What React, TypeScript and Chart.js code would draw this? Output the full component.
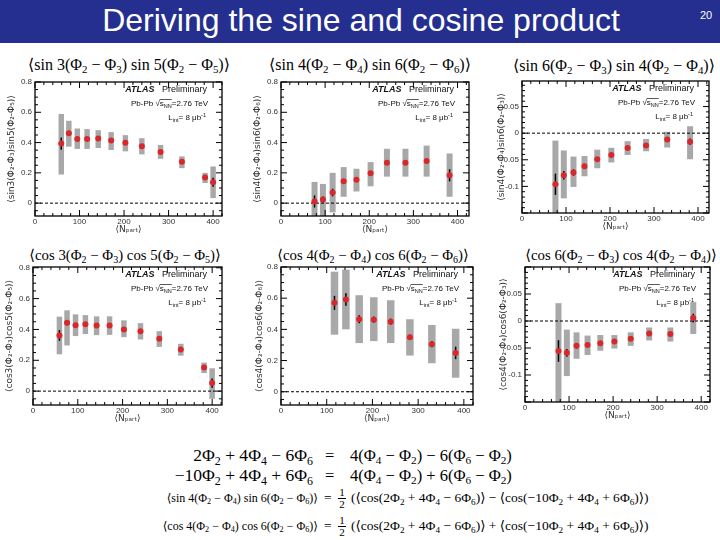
import React, { useEffect, useRef } from 'react';
import { Chart, registerables } from 'chart.js';
Chart.register(...registerables);

// ---------------- data ----------------
const nPart12 = [59, 76, 95, 117, 142, 171, 203, 240, 282, 330, 382, 400];
const nPart10 = [76, 95, 117, 142, 171, 203, 240, 282, 330, 382];
const nPart8 = [117, 142, 171, 203, 240, 282, 330, 382];

const xTickValues = [0, 100, 200, 300, 400];
const yTicksWide = [0, 0.2, 0.4, 0.6, 0.8];
const yTicksNarrow = [-0.1, -0.05, 0, 0.05];

// <sin3(Φ2-Φ3) sin5(Φ2-Φ5)>
const sin35Val = [0.393, 0.462, 0.424, 0.424, 0.427, 0.413, 0.398, 0.376, 0.338, 0.273, 0.169, 0.138];
const sin35Stat = [0.04, 0.015, 0.012, 0.01, 0.01, 0.01, 0.008, 0.008, 0.008, 0.008, 0.012, 0.03];
const sin35Lo = [0.189, 0.373, 0.358, 0.358, 0.364, 0.351, 0.342, 0.322, 0.293, 0.231, 0.133, 0.033];
const sin35Hi = [0.589, 0.544, 0.493, 0.489, 0.482, 0.469, 0.449, 0.429, 0.384, 0.309, 0.2, 0.242];

// <sin4(Φ2-Φ4) sin6(Φ2-Φ6)>
const sin46Val = [0.011, 0.024, 0.07, 0.144, 0.155, 0.197, 0.267, 0.267, 0.278, 0.184];
const sin46Stat = [0.04, 0.02, 0.025, 0.015, 0.012, 0.012, 0.012, 0.012, 0.015, 0.04];
const sin46Lo = [-0.17, -0.09, -0.061, 0.042, 0.077, 0.111, 0.175, 0.175, 0.175, 0.042];
const sin46Hi = [0.14, 0.127, 0.2, 0.238, 0.227, 0.271, 0.359, 0.359, 0.38, 0.328];

// <sin6(Φ2-Φ3) sin4(Φ2-Φ4)>
const sin64Val = [-0.096, -0.079, -0.074, -0.062, -0.049, -0.041, -0.028, -0.023, -0.012, -0.016];
const sin64Stat = [0.02, 0.008, 0.006, 0.004, 0.004, 0.003, 0.003, 0.003, 0.003, 0.006];
const sin64Lo = [-0.16, -0.1225, -0.101, -0.081, -0.066, -0.055, -0.041, -0.034, -0.027, -0.049];
const sin64Hi = [-0.014, -0.0325, -0.044, -0.043, -0.031, -0.0275, -0.015, -0.011, 0.0025, 0.013];

// <cos3(Φ2-Φ3) cos5(Φ2-Φ5)>
const cos35Val = [0.361, 0.443, 0.428, 0.433, 0.426, 0.426, 0.4, 0.389, 0.339, 0.27, 0.154, 0.052];
const cos35Stat = [0.035, 0.015, 0.012, 0.01, 0.01, 0.01, 0.008, 0.008, 0.008, 0.008, 0.012, 0.03];
const cos35Lo = [0.239, 0.296, 0.357, 0.37, 0.363, 0.365, 0.35, 0.335, 0.287, 0.23, 0.117, -0.05];
const cos35Hi = [0.483, 0.524, 0.498, 0.493, 0.485, 0.485, 0.459, 0.441, 0.389, 0.307, 0.185, 0.148];

// <cos4(Φ2-Φ4) cos6(Φ2-Φ6)>
const cos46Val = [0.57, 0.591, 0.465, 0.462, 0.449, 0.35, 0.305, 0.249];
const cos46Stat = [0.045, 0.04, 0.025, 0.02, 0.02, 0.015, 0.02, 0.04];
const cos46Lo = [0.366, 0.4, 0.312, 0.325, 0.312, 0.232, 0.183, 0.09];
const cos46Hi = [0.77, 0.783, 0.619, 0.606, 0.587, 0.465, 0.428, 0.404];

// <cos6(Φ2-Φ3) cos4(Φ2-Φ4)>
const cos64Val = [-0.0555, -0.059, -0.046, -0.0445, -0.041, -0.038, -0.033, -0.023, -0.024, 0.0055];
const cos64Stat = [0.02, 0.007, 0.005, 0.004, 0.003, 0.003, 0.003, 0.003, 0.003, 0.008];
const cos64Lo = [-0.16, -0.102, -0.07, -0.063, -0.055, -0.051, -0.046, -0.036, -0.038, -0.024];
const cos64Hi = [0.033, -0.016, -0.021, -0.027, -0.026, -0.026, -0.021, -0.012, -0.012, 0.035];

// ---------------- style ----------------
const RED = '#d9272b';
const GRAY = '#a8a8a8';
const SANS = '"Liberation Sans", Arial, sans-serif';
const SERIF = '"Liberation Serif", "DejaVu Serif", "Times New Roman", serif';

type Spec = {
  x: number[]; val: number[]; stat: number[]; lo: number[]; hi: number[];
  yMin: number; yMax: number; xMax: number; yTicks: number[]; yMinor: number;
  yLabel: string; box: number;
  plot: { l: number; t: number; r: number; b: number }; tc: number;
  fn: string; m1: number; k1: number; m2: number; k2: number; tx: number; ty: number; tf: number;
};

const specs: Spec[] = [
  { x: nPart12, val: sin35Val, stat: sin35Stat, lo: sin35Lo, hi: sin35Hi, yMin: -0.085, yMax: 0.8, xMax: 420,
    yTicks: yTicksWide, yMinor: 0.05, yLabel: '⟨sin3(Φ₂-Φ₃)sin5(Φ₂-Φ₅)⟩', box: 6,
    plot: { l: 35, t: 82, r: 222, b: 216 }, tc: 11, fn: 'sin', m1: 3, k1: 3, m2: 5, k2: 5, tx: 129, ty: 65, tf: 16 },
  { x: nPart10, val: sin46Val, stat: sin46Stat, lo: sin46Lo, hi: sin46Hi, yMin: -0.085, yMax: 0.8, xMax: 426,
    yTicks: yTicksWide, yMinor: 0.05, yLabel: '⟨sin4(Φ₂-Φ₄)sin6(Φ₂-Φ₆)⟩', box: 6,
    plot: { l: 281, t: 82, r: 469, b: 216 }, tc: 257, fn: 'sin', m1: 4, k1: 4, m2: 6, k2: 6, tx: 370, ty: 65, tf: 16 },
  { x: nPart10, val: sin64Val, stat: sin64Stat, lo: sin64Lo, hi: sin64Hi, yMin: -0.15, yMax: 0.098, xMax: 425,
    yTicks: yTicksNarrow, yMinor: 0.01, yLabel: '⟨sin4(Φ₂-Φ₄)sin6(Φ₂-Φ₃)⟩', box: 6,
    plot: { l: 522, t: 81, r: 709, b: 213 }, tc: 501, fn: 'sin', m1: 6, k1: 3, m2: 4, k2: 4, tx: 614, ty: 66, tf: 16 },
  { x: nPart12, val: cos35Val, stat: cos35Stat, lo: cos35Lo, hi: cos35Hi, yMin: -0.09, yMax: 0.805, xMax: 422,
    yTicks: yTicksWide, yMinor: 0.05, yLabel: '⟨cos3(Φ₂-Φ₃)cos5(Φ₂-Φ₅)⟩', box: 6,
    plot: { l: 33, t: 267, r: 222, b: 405 }, tc: 9, fn: 'cos', m1: 3, k1: 3, m2: 5, k2: 5, tx: 125, ty: 255, tf: 14.8 },
  { x: nPart8, val: cos46Val, stat: cos46Stat, lo: cos46Lo, hi: cos46Hi, yMin: -0.085, yMax: 0.8, xMax: 420,
    yTicks: yTicksWide, yMinor: 0.05, yLabel: '⟨cos4(Φ₂-Φ₄)cos6(Φ₂-Φ₆)⟩', box: 7.5,
    plot: { l: 281, t: 267, r: 473, b: 405 }, tc: 259, fn: 'cos', m1: 4, k1: 4, m2: 6, k2: 6, tx: 373, ty: 255, tf: 14.8 },
  { x: nPart10, val: cos64Val, stat: cos64Stat, lo: cos64Lo, hi: cos64Hi, yMin: -0.15, yMax: 0.1, xMax: 420,
    yTicks: yTicksNarrow, yMinor: 0.01, yLabel: '⟨cos4(Φ₂-Φ₄)cos6(Φ₂-Φ₃)⟩', box: 6,
    plot: { l: 525, t: 267, r: 710, b: 402 }, tc: 503, fn: 'cos', m1: 6, k1: 3, m2: 4, k2: 4, tx: 621, ty: 255, tf: 14.8 },
];

// ---------------- plugins ----------------
const framePlugin = {
  id: 'rootFrame',
  afterDatasetsDraw(chart: any, _a: any, opts: any) {
    const { ctx, chartArea: a, scales } = chart;
    const xs = scales.x, ys = scales.y;
    ctx.save();
    ctx.strokeStyle = '#000';
    ctx.lineWidth = 1;
    ctx.beginPath();
    const xMinor = 20;
    const yMinor = opts.yMinor;
    for (let i = Math.ceil(xs.min / xMinor); i * xMinor <= xs.max + 1e-9; i++) {
      const v = i * xMinor;
      const px = xs.getPixelForValue(v);
      const major = Math.abs(v % 100) < 1e-6;
      const len = major ? 6 : 3;
      ctx.moveTo(px, a.bottom); ctx.lineTo(px, a.bottom - len);
      ctx.moveTo(px, a.top); ctx.lineTo(px, a.top + len);
    }
    const majorStep = opts.yMajor;
    for (let i = Math.ceil(ys.min / yMinor - 1e-6); i * yMinor <= ys.max + 1e-9; i++) {
      const v = i * yMinor;
      const py = ys.getPixelForValue(v);
      const r = v / majorStep;
      const major = Math.abs(r - Math.round(r)) < 1e-6;
      const len = major ? 6 : 3;
      ctx.moveTo(a.left, py); ctx.lineTo(a.left + len, py);
      ctx.moveTo(a.right, py); ctx.lineTo(a.right - len, py);
    }
    ctx.stroke();
    ctx.lineWidth = 1.3;
    ctx.strokeRect(a.left, a.top, a.right - a.left, a.bottom - a.top);
    ctx.restore();
  },
};

function richWidth(ctx: any, parts: any[]) {
  let w = 0;
  for (const p of parts) {
    ctx.font = `${p.style || ''} ${p.size}px ${SANS}`;
    w += ctx.measureText(p.t).width;
  }
  return w;
}
function drawRich(ctx: any, parts: any[], xRight: number, y: number) {
  let x = xRight - richWidth(ctx, parts);
  const pos: number[] = [];
  for (const p of parts) {
    ctx.font = `${p.style || ''} ${p.size}px ${SANS}`;
    pos.push(x);
    ctx.fillText(p.t, x, y + (p.dy || 0));
    x += ctx.measureText(p.t).width;
  }
  pos.push(x);
  return pos;
}

const atlasPlugin = {
  id: 'atlasLabel',
  afterDatasetsDraw(chart: any) {
    const { ctx, chartArea: a } = chart;
    const xr = a.right - 15;
    ctx.save();
    ctx.fillStyle = '#111';
    ctx.strokeStyle = '#111';
    ctx.textBaseline = 'middle';
    ctx.textAlign = 'left';
    drawRich(ctx, [
      { t: 'ATLAS', size: 9, style: 'italic bold' },
      { t: '   Preliminary', size: 9 },
    ], xr, a.top + 8);
    const pos = drawRich(ctx, [
      { t: 'Pb-Pb ', size: 8 },
      { t: '√', size: 8 },
      { t: 's', size: 8 },
      { t: 'NN', size: 5.5, dy: 2 },
      { t: '=2.76 TeV', size: 8 },
    ], xr + 1, a.top + 22);
    ctx.lineWidth = 0.7;
    ctx.beginPath();
    ctx.moveTo(pos[2], a.top + 17.5);
    ctx.lineTo(pos[4], a.top + 17.5);
    ctx.stroke();
    drawRich(ctx, [
      { t: 'L', size: 8 },
      { t: 'int', size: 5.5, dy: 2 },
      { t: '= 8 μb', size: 8 },
      { t: '-1', size: 5.5, dy: -3 },
    ], xr - 1, a.top + 36);
    ctx.restore();
  },
};

const fmt = (v: number) => String(Math.round(v * 1000) / 1000);

function Panel({ s }: { s: Spec }) {
  const ref = useRef<HTMLCanvasElement>(null);
  const xH = 19;
  const cellLeft = s.tc - 9;
  const cellTop = s.plot.t - 10;
  const cellRight = Math.min(s.plot.r + 10, 719);
  const cellBottom = s.plot.b + xH;
  const W = cellRight - cellLeft;
  const H = cellBottom - cellTop;
  useEffect(() => {
    const yW = s.plot.l - cellLeft;
    const chart = new Chart(ref.current as HTMLCanvasElement, {
      type: 'scatter',
      data: {
        datasets: [
          { type: 'scatter', data: s.x.map((x, i) => ({ x, y: s.val[i] })), backgroundColor: RED,
            pointRadius: 3, pointBorderWidth: 0, order: 0 } as any,
          { type: 'bar', data: s.x.map((x, i) => ({ x, y: [s.val[i] - s.stat[i], s.val[i] + s.stat[i]] })),
            backgroundColor: '#000', grouped: false, maxBarThickness: 1.5, order: 1 } as any,
          { type: 'line', data: [{ x: 0, y: 0 }, { x: s.xMax, y: 0 }], borderColor: '#000', borderWidth: 1,
            borderDash: [3, 2], pointRadius: 0, order: 2 } as any,
          { type: 'bar', data: s.x.map((x, i) => ({ x, y: [s.lo[i], s.hi[i]] })),
            backgroundColor: GRAY, grouped: false, maxBarThickness: s.box, order: 3 } as any,
        ],
      },
      options: {
        animation: false,
        responsive: false,
        maintainAspectRatio: false,
        layout: { padding: { top: s.plot.t - cellTop, right: cellRight - s.plot.r, bottom: 0, left: 0 } },
        plugins: {
          legend: { display: false },
          tooltip: { enabled: false },
          rootFrame: { yMinor: s.yMinor, yMajor: s.yTicks[1] - s.yTicks[0] },
        } as any,
        scales: {
          x: {
            type: 'linear', min: 0, max: s.xMax, offset: false,
            afterBuildTicks: (sc: any) => { sc.ticks = xTickValues.map((v) => ({ value: v })); },
            afterFit: (sc: any) => { sc.height = xH; },
            grid: { display: false, drawTicks: false },
            border: { display: false },
            ticks: { font: { size: 8, family: SANS }, color: '#333', padding: 1, maxRotation: 0, autoSkip: false, callback: (v: any) => fmt(v) },
            title: { display: true, text: '⟨Nₚₐᵣₜ⟩', font: { size: 9, family: '"DejaVu Sans", sans-serif' }, color: '#333', padding: 0 },
          },
          y: {
            type: 'linear', min: s.yMin, max: s.yMax,
            afterBuildTicks: (sc: any) => { sc.ticks = s.yTicks.map((v) => ({ value: v })); },
            afterFit: (sc: any) => { sc.width = yW; },
            grid: { display: false, drawTicks: false },
            border: { display: false },
            ticks: { font: { size: 8, family: SANS }, color: '#333', padding: 3, autoSkip: false, callback: (v: any) => fmt(v) },
            title: { display: true, text: s.yLabel, font: { size: 9, family: '"DejaVu Sans", sans-serif' }, color: '#333', padding: { top: 4, bottom: 0 } },
          },
        },
      } as any,
      plugins: [framePlugin, atlasPlugin],
    });
    return () => chart.destroy();
  }, []);
  return (
    <canvas ref={ref} width={W} height={H}
      style={{ position: 'absolute', left: cellLeft, top: cellTop, width: W, height: H }} />
  );
}

const subStyle: React.CSSProperties = { fontSize: '0.68em', verticalAlign: '-0.3em', lineHeight: 0 };
const P = ({ n }: { n: number | string }) => <>Φ<sub style={subStyle}>{n}</sub></>;

function ProdTitle({ s }: { s: Spec }) {
  return (
    <div style={{ position: 'absolute', left: s.tx - 130, top: s.ty - 11, width: 260, textAlign: 'center',
      fontFamily: SERIF, fontSize: s.tf, lineHeight: '22px', color: '#000', whiteSpace: 'nowrap' }}>
      ⟨{s.fn} {s.m1}(<P n={2} /> − <P n={s.k1} />) {s.fn} {s.m2}(<P n={2} /> − <P n={s.k2} />)⟩
    </div>
  );
}

function EqLine({ y, size, rsize, lhs, rhs, frac, lhsR, eqX, rhsX }: any) {
  const common: React.CSSProperties = { position: 'absolute', fontFamily: SERIF, lineHeight: `${size + 4}px`, whiteSpace: 'nowrap', color: '#000' };
  const top = y - (size + 4) / 2;
  return (
    <>
      <div style={{ ...common, fontSize: size, top, right: 720 - lhsR, textAlign: 'right' }}>{lhs}</div>
      <div style={{ ...common, fontSize: rsize, top, left: eqX - 5 }}>=</div>
      {frac && (
        <div style={{ position: 'absolute', left: eqX + 9, top: y - 11, width: 8, fontFamily: SERIF, fontSize: 11, lineHeight: '11px', textAlign: 'center' }}>
          <div>1</div>
          <div style={{ borderTop: '0.8px solid #000' }}>2</div>
        </div>
      )}
      <div style={{ ...common, fontSize: rsize, top, left: rhsX }}>{rhs}</div>
    </>
  );
}

export default function App() {
  const cosPair = (sign: string) => (
    <>(⟨cos(2<P n={2} /> + 4<P n={4} /> − 6<P n={6} />)⟩ {sign} ⟨cos(−10<P n={2} /> + 4<P n={4} /> + 6<P n={6} />)⟩)</>
  );
  return (
    <div style={{ position: 'absolute', left: 0, top: 0, width: 720, height: 540, background: '#fff', overflow: 'hidden' }}>
      <div style={{ position: 'absolute', left: 0, top: 0, width: 720, height: 43, background: '#242f8f' }} />
      <div style={{ position: 'absolute', left: 0, top: 2, width: 722, textAlign: 'center', color: '#fff',
        fontFamily: SANS, fontSize: 32, lineHeight: '36px', whiteSpace: 'nowrap' }}>
        Deriving the sine and cosine product
      </div>
      <div style={{ position: 'absolute', left: 696, top: 8, width: 20, textAlign: 'center', color: '#fff',
        fontFamily: SANS, fontSize: 11, lineHeight: '14px' }}>20</div>

      {specs.map((s, i) => <ProdTitle key={'t' + i} s={s} />)}
      {specs.map((s, i) => <Panel key={'p' + i} s={s} />)}

      <EqLine y={456} size={17.5} rsize={16.5} lhsR={313} eqX={330} rhsX={350}
        lhs={<>2<P n={2} /> + 4<P n={4} /> − 6<P n={6} /></>}
        rhs={<>4(<P n={4} /> − <P n={2} />) − 6(<P n={6} /> − <P n={2} />)</>} />
      <EqLine y={476} size={17.5} rsize={16.5} lhsR={313} eqX={330} rhsX={350}
        lhs={<>−10<P n={2} /> + 4<P n={4} /> + 6<P n={6} /></>}
        rhs={<>4(<P n={4} /> − <P n={2} />) + 6(<P n={6} /> − <P n={2} />)</>} />
      <EqLine y={498} size={12} rsize={13.5} lhsR={318} eqX={329} rhsX={351} frac
        lhs={<>⟨sin 4(<P n={2} /> − <P n={4} />) sin 6(<P n={2} /> − <P n={6} />)⟩</>}
        rhs={cosPair('−')} />
      <EqLine y={526} size={12} rsize={13.5} lhsR={318} eqX={329} rhsX={351} frac
        lhs={<>⟨cos 4(<P n={2} /> − <P n={4} />) cos 6(<P n={2} /> − <P n={6} />)⟩</>}
        rhs={cosPair('+')} />
    </div>
  );
}
